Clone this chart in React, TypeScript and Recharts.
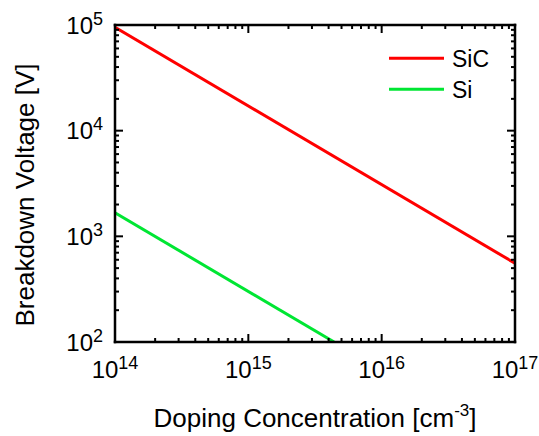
import React from 'react';
import { LineChart, Line, XAxis, YAxis, Legend } from 'recharts';

const sicDoping = [1e14, 1e17];
const sicVoltage = [95000, 556];
const siDoping = [1e14, 4.4e15];
const siVoltage = [1670, 100];

const seriesNames = ['SiC', 'Si'];
const seriesColors = ['#ff0000', '#00e633'];

const xMajorTicks = [1e14, 1e15, 1e16, 1e17];
const xMinorTicks = [
  2e14, 3e14, 4e14, 5e14, 6e14, 7e14, 8e14, 9e14,
  2e15, 3e15, 4e15, 5e15, 6e15, 7e15, 8e15, 9e15,
  2e16, 3e16, 4e16, 5e16, 6e16, 7e16, 8e16, 9e16,
];
const yMajorTicks = [1e2, 1e3, 1e4, 1e5];
const yMinorTicks = [
  200, 300, 400, 500, 600, 700, 800, 900,
  2000, 3000, 4000, 5000, 6000, 7000, 8000, 9000,
  20000, 30000, 40000, 50000, 60000, 70000, 80000, 90000,
];

const xTitle = 'Doping Concentration [cm';
const xTitleSup = '-3';
const yTitle = 'Breakdown Voltage [V]';

const FONT = "'Liberation Sans', Arial, Helvetica, sans-serif";

const sicData = sicDoping.map((x, i) => ({ x, y: sicVoltage[i] }));
const siData = siDoping.map((x, i) => ({ x, y: siVoltage[i] }));
const xTicks = [...xMajorTicks, ...xMinorTicks].sort((a, b) => a - b);
const yTicks = [...yMajorTicks, ...yMinorTicks].sort((a, b) => a - b);

const isMajor = (v: number) => Math.abs(Math.log10(v) - Math.round(Math.log10(v))) < 1e-9;
const expOf = (v: number) => Math.round(Math.log10(v));

const MAJOR = 8;
const MINOR = 4;
const TICKW = 2;

const PowLabel = ({ x, y, v, anchor }: any) => (
  <text x={x} y={y} textAnchor={anchor} fontFamily={FONT} fill="#000">
    <tspan fontSize={24}>10</tspan>
    <tspan fontSize={18} dy={-9}>{expOf(v)}</tspan>
  </text>
);

const BottomTick = (p: any) => {
  const { x, y, payload } = p;
  const m = isMajor(payload.value);
  return (
    <g>
      <line x1={x} x2={x} y1={y} y2={y - (m ? MAJOR : MINOR)} stroke="#000" strokeWidth={TICKW} />
      {m && <PowLabel x={x} y={y + 36} v={payload.value} anchor="middle" />}
    </g>
  );
};
const TopTick = (p: any) => {
  const { x, y, payload } = p;
  const m = isMajor(payload.value);
  return <line x1={x} x2={x} y1={y} y2={y + (m ? MAJOR : MINOR)} stroke="#000" strokeWidth={TICKW} />;
};
const LeftTick = (p: any) => {
  const { x, y, payload } = p;
  const m = isMajor(payload.value);
  return (
    <g>
      <line x1={x} x2={x + (m ? MAJOR : MINOR)} y1={y} y2={y} stroke="#000" strokeWidth={TICKW} />
      {m && <PowLabel x={x - 12} y={y + 8.5} v={payload.value} anchor="end" />}
    </g>
  );
};
const RightTick = (p: any) => {
  const { x, y, payload } = p;
  const m = isMajor(payload.value);
  return <line x1={x} x2={x - (m ? MAJOR : MINOR)} y1={y} y2={y} stroke="#000" strokeWidth={TICKW} />;
};

const axisStyle = { stroke: '#000', strokeWidth: 2.5, strokeLinecap: 'square' } as any;

const XTitle = () => (
  <text x={315} y={427} textAnchor="middle" fontFamily={FONT} fontSize={26} fill="#000">
    {xTitle}
    <tspan fontSize={17} dy={-11}>{xTitleSup}</tspan>
    <tspan dy={11}>]</tspan>
  </text>
);
const YTitle = () => (
  <text x={34} y={195} transform="rotate(-90 34 195)" textAnchor="middle" fontFamily={FONT} fontSize={26} fill="#000">
    {yTitle}
  </text>
);

const LegendContent = (props: any) => {
  const payload = [...(props.payload || [])].sort(
    (a: any, b: any) => seriesNames.indexOf(a.value) - seriesNames.indexOf(b.value)
  );
  return (
    <svg width={160} height={80} style={{ display: 'block' }}>
      {payload.map((p: any, i: number) => (
        <g key={i}>
          <line x1={9} x2={64} y1={28.3 + 31 * i} y2={28.3 + 31 * i} stroke={p.color} strokeWidth={3} />
          <text x={72} y={36.5 + 31 * i} fontFamily={FONT} fontSize={23} fill="#000">{p.value}</text>
        </g>
      ))}
    </svg>
  );
};

export default function App() {
  return (
    <div style={{ position: 'absolute', left: 0, top: 0, background: '#fff' }}>
      <LineChart width={539} height={436} margin={{ top: 15, right: 14, bottom: 34, left: 55 }}>
        <XAxis xAxisId="b" orientation="bottom" dataKey="x" type="number" scale="log"
          domain={[1e14, 1e17]} allowDataOverflow ticks={xTicks} interval={0}
          tickSize={0} tickMargin={0} tickLine={false} tick={(p: any) => <BottomTick {...p} />}
          axisLine={axisStyle} height={60} label={{ content: XTitle } as any} />
        <XAxis xAxisId="t" orientation="top" dataKey="x" type="number" scale="log"
          domain={[1e14, 1e17]} allowDataOverflow ticks={xTicks} interval={0}
          tickSize={0} tickMargin={0} tickLine={false} tick={(p: any) => <TopTick {...p} />}
          axisLine={axisStyle} height={10} />
        <YAxis yAxisId="l" orientation="left" type="number" scale="log"
          domain={[1e2, 1e5]} allowDataOverflow ticks={yTicks} interval={0}
          tickSize={0} tickMargin={0} tickLine={false} tick={(p: any) => <LeftTick {...p} />}
          axisLine={axisStyle} width={60} label={{ content: YTitle } as any} />
        <YAxis yAxisId="r" orientation="right" type="number" scale="log"
          domain={[1e2, 1e5]} allowDataOverflow ticks={yTicks} interval={0}
          tickSize={0} tickMargin={0} tickLine={false} tick={(p: any) => <RightTick {...p} />}
          axisLine={axisStyle} width={10} />
        <Line xAxisId="b" yAxisId="l" data={sicData} dataKey="y" name={seriesNames[0]}
          stroke={seriesColors[0]} strokeWidth={3} dot={false} activeDot={false} isAnimationActive={false} />
        <Line xAxisId="b" yAxisId="l" data={siData} dataKey="y" name={seriesNames[1]}
          stroke={seriesColors[1]} strokeWidth={3} dot={false} activeDot={false} isAnimationActive={false} />
        <Legend layout="vertical" align="center" verticalAlign="middle" content={LegendContent}
          wrapperStyle={{ position: 'absolute', left: 380, top: 30, width: 160, height: 80 }} />
      </LineChart>
    </div>
  );
}
